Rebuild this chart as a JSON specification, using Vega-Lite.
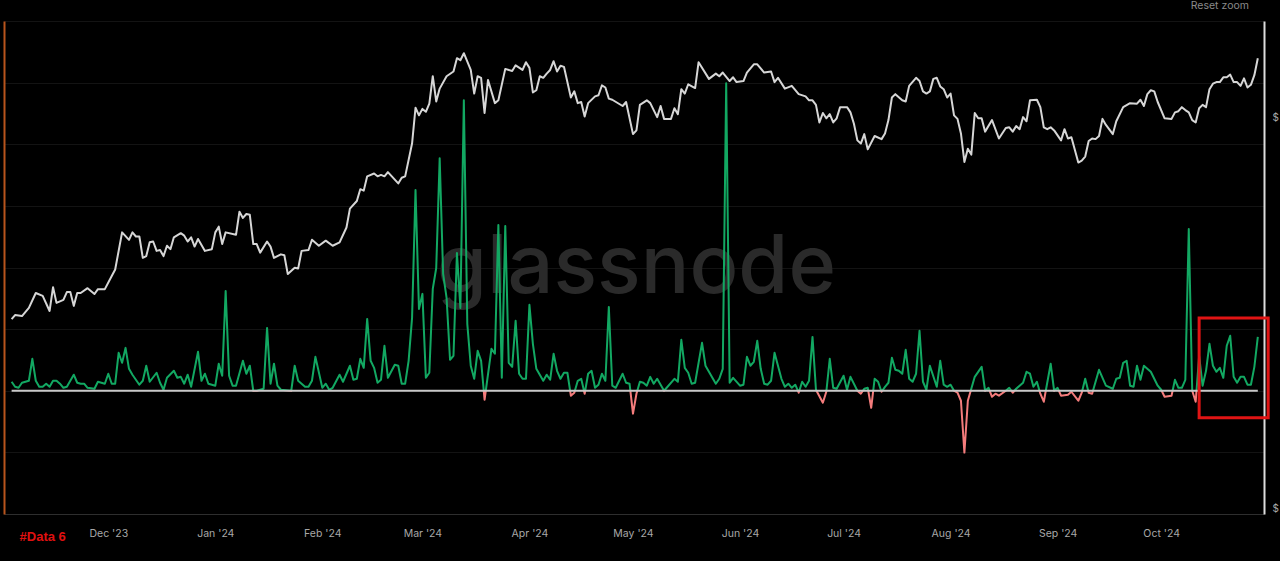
{
  "$schema": "https://vega.github.io/schema/vega-lite/v6.json",
  "description": "Bitcoin price with net flow line, dark theme with glassnode watermark.",
  "width": 1260,
  "height": 493,
  "autosize": "none",
  "padding": {"left": 4, "top": 21, "right": 16, "bottom": 47},
  "background": "#000000",
  "datasets": {
    "price": [
      {"date":"2023-11-03","price":34000},{"date":"2023-11-04","price":34400},{"date":"2023-11-06","price":34300},{"date":"2023-11-08","price":35100},{"date":"2023-11-10","price":36600},{"date":"2023-11-12","price":36300},{"date":"2023-11-14","price":34800},{"date":"2023-11-15","price":37200},{"date":"2023-11-16","price":35600},{"date":"2023-11-18","price":35900},{"date":"2023-11-19","price":36700},{"date":"2023-11-20","price":36700},{"date":"2023-11-21","price":35300},{"date":"2023-11-22","price":36600},{"date":"2023-11-23","price":36600},{"date":"2023-11-25","price":37100},{"date":"2023-11-27","price":36500},{"date":"2023-11-28","price":37000},{"date":"2023-11-30","price":37000},
      {"date":"2023-12-02","price":38400},{"date":"2023-12-03","price":39100},{"date":"2023-12-05","price":43400},{"date":"2023-12-07","price":42500},{"date":"2023-12-08","price":43400},{"date":"2023-12-09","price":42900},{"date":"2023-12-10","price":42900},{"date":"2023-12-11","price":40400},{"date":"2023-12-12","price":40600},{"date":"2023-12-13","price":42200},{"date":"2023-12-14","price":42300},{"date":"2023-12-15","price":41200},{"date":"2023-12-16","price":41300},{"date":"2023-12-17","price":40600},{"date":"2023-12-18","price":41800},{"date":"2023-12-19","price":41400},{"date":"2023-12-20","price":42800},{"date":"2023-12-22","price":43300},{"date":"2023-12-23","price":43000},{"date":"2023-12-24","price":42300},{"date":"2023-12-25","price":42800},{"date":"2023-12-26","price":41700},{"date":"2023-12-27","price":42600},{"date":"2023-12-29","price":41200},{"date":"2023-12-31","price":41400},
      {"date":"2024-01-01","price":43400},{"date":"2024-01-02","price":44100},{"date":"2024-01-03","price":42000},{"date":"2024-01-04","price":43400},{"date":"2024-01-07","price":43100},{"date":"2024-01-08","price":46000},{"date":"2024-01-09","price":45200},{"date":"2024-01-10","price":45700},{"date":"2024-01-11","price":45600},{"date":"2024-01-12","price":42000},{"date":"2024-01-13","price":42000},{"date":"2024-01-14","price":41000},{"date":"2024-01-16","price":42300},{"date":"2024-01-17","price":41700},{"date":"2024-01-18","price":40400},{"date":"2024-01-20","price":40800},{"date":"2024-01-21","price":40700},{"date":"2024-01-22","price":38600},{"date":"2024-01-24","price":39300},{"date":"2024-01-25","price":39200},{"date":"2024-01-26","price":41200},{"date":"2024-01-28","price":41300},{"date":"2024-01-29","price":42500},{"date":"2024-01-31","price":41800},
      {"date":"2024-02-02","price":42400},{"date":"2024-02-04","price":41800},{"date":"2024-02-06","price":42200},{"date":"2024-02-08","price":44000},{"date":"2024-02-09","price":46400},{"date":"2024-02-11","price":47400},{"date":"2024-02-12","price":49000},{"date":"2024-02-13","price":48800},{"date":"2024-02-14","price":50800},{"date":"2024-02-16","price":51200},{"date":"2024-02-17","price":50800},{"date":"2024-02-18","price":51000},{"date":"2024-02-19","price":50800},{"date":"2024-02-20","price":51400},{"date":"2024-02-23","price":49800},{"date":"2024-02-24","price":50600},{"date":"2024-02-25","price":50800},{"date":"2024-02-27","price":55700},{"date":"2024-02-28","price":61600},{"date":"2024-02-29","price":60300},
      {"date":"2024-03-01","price":61400},{"date":"2024-03-02","price":60900},{"date":"2024-03-03","price":62300},{"date":"2024-03-04","price":67300},{"date":"2024-03-05","price":62700},{"date":"2024-03-06","price":65000},{"date":"2024-03-08","price":67300},{"date":"2024-03-10","price":68200},{"date":"2024-03-11","price":70800},{"date":"2024-03-12","price":70400},{"date":"2024-03-13","price":71800},{"date":"2024-03-15","price":68500},{"date":"2024-03-16","price":64100},{"date":"2024-03-17","price":67300},{"date":"2024-03-18","price":67000},{"date":"2024-03-19","price":60700},{"date":"2024-03-20","price":66600},{"date":"2024-03-22","price":62400},{"date":"2024-03-23","price":62900},{"date":"2024-03-25","price":68700},{"date":"2024-03-27","price":68300},{"date":"2024-03-28","price":69400},{"date":"2024-03-30","price":68500},{"date":"2024-03-31","price":70000},
      {"date":"2024-04-01","price":68900},{"date":"2024-04-02","price":64300},{"date":"2024-04-03","price":64700},{"date":"2024-04-04","price":67300},{"date":"2024-04-05","price":67000},{"date":"2024-04-06","price":67800},{"date":"2024-04-07","price":68500},{"date":"2024-04-08","price":70200},{"date":"2024-04-09","price":68200},{"date":"2024-04-10","price":69300},{"date":"2024-04-11","price":69100},{"date":"2024-04-13","price":63400},{"date":"2024-04-14","price":64500},{"date":"2024-04-15","price":62400},{"date":"2024-04-16","price":62600},{"date":"2024-04-17","price":60100},{"date":"2024-04-18","price":62400},{"date":"2024-04-20","price":63600},{"date":"2024-04-21","price":63800},{"date":"2024-04-22","price":65600},{"date":"2024-04-23","price":65200},{"date":"2024-04-24","price":63200},{"date":"2024-04-25","price":63000},{"date":"2024-04-28","price":61900},{"date":"2024-04-29","price":62600},
      {"date":"2024-05-01","price":57200},{"date":"2024-05-02","price":57800},{"date":"2024-05-03","price":62100},{"date":"2024-05-05","price":62900},{"date":"2024-05-06","price":62400},{"date":"2024-05-08","price":60000},{"date":"2024-05-09","price":61900},{"date":"2024-05-10","price":59700},{"date":"2024-05-12","price":59700},{"date":"2024-05-13","price":61500},{"date":"2024-05-14","price":60500},{"date":"2024-05-15","price":64900},{"date":"2024-05-16","price":64100},{"date":"2024-05-17","price":65800},{"date":"2024-05-19","price":65100},{"date":"2024-05-20","price":70000},{"date":"2024-05-23","price":66800},{"date":"2024-05-25","price":67800},{"date":"2024-05-26","price":67300},{"date":"2024-05-27","price":68000},{"date":"2024-05-29","price":66400},{"date":"2024-05-30","price":67100},{"date":"2024-05-31","price":66200},
      {"date":"2024-06-02","price":66400},{"date":"2024-06-03","price":68000},{"date":"2024-06-05","price":69600},{"date":"2024-06-06","price":69600},{"date":"2024-06-08","price":68000},{"date":"2024-06-10","price":68200},{"date":"2024-06-11","price":66200},{"date":"2024-06-12","price":67000},{"date":"2024-06-14","price":65000},{"date":"2024-06-16","price":65500},{"date":"2024-06-18","price":64000},{"date":"2024-06-20","price":63600},{"date":"2024-06-21","price":62900},{"date":"2024-06-22","price":62900},{"date":"2024-06-23","price":62100},{"date":"2024-06-24","price":59100},{"date":"2024-06-25","price":60700},{"date":"2024-06-26","price":59800},{"date":"2024-06-27","price":60500},{"date":"2024-06-28","price":59100},{"date":"2024-06-29","price":59800},{"date":"2024-06-30","price":61700},
      {"date":"2024-07-02","price":61700},{"date":"2024-07-03","price":60800},{"date":"2024-07-04","price":58900},{"date":"2024-07-05","price":56200},{"date":"2024-07-06","price":55700},{"date":"2024-07-07","price":57200},{"date":"2024-07-08","price":54800},{"date":"2024-07-10","price":56900},{"date":"2024-07-12","price":56400},{"date":"2024-07-13","price":57300},{"date":"2024-07-14","price":59500},{"date":"2024-07-15","price":63400},{"date":"2024-07-16","price":64000},{"date":"2024-07-18","price":62900},{"date":"2024-07-19","price":62700},{"date":"2024-07-20","price":65500},{"date":"2024-07-22","price":67000},{"date":"2024-07-23","price":66400},{"date":"2024-07-24","price":64500},{"date":"2024-07-25","price":64100},{"date":"2024-07-26","price":64500},{"date":"2024-07-27","price":66800},{"date":"2024-07-28","price":67000},{"date":"2024-07-29","price":65400},{"date":"2024-07-30","price":64900},{"date":"2024-07-31","price":63400},
      {"date":"2024-08-01","price":64100},{"date":"2024-08-02","price":60300},{"date":"2024-08-03","price":59700},{"date":"2024-08-04","price":57300},{"date":"2024-08-05","price":52900},{"date":"2024-08-06","price":54900},{"date":"2024-08-07","price":54000},{"date":"2024-08-08","price":60700},{"date":"2024-08-09","price":59800},{"date":"2024-08-10","price":59800},{"date":"2024-08-11","price":57600},{"date":"2024-08-13","price":59500},{"date":"2024-08-15","price":56500},{"date":"2024-08-17","price":58200},{"date":"2024-08-18","price":58300},{"date":"2024-08-19","price":57600},{"date":"2024-08-20","price":58500},{"date":"2024-08-21","price":58000},{"date":"2024-08-22","price":60000},{"date":"2024-08-23","price":59300},{"date":"2024-08-24","price":62900},{"date":"2024-08-26","price":63000},{"date":"2024-08-27","price":61700},{"date":"2024-08-28","price":58300},{"date":"2024-08-29","price":58000},{"date":"2024-08-30","price":58300},{"date":"2024-08-31","price":57800},
      {"date":"2024-09-02","price":56200},{"date":"2024-09-03","price":58000},{"date":"2024-09-04","price":56500},{"date":"2024-09-05","price":56700},{"date":"2024-09-07","price":52800},{"date":"2024-09-08","price":53100},{"date":"2024-09-09","price":53700},{"date":"2024-09-10","price":56100},{"date":"2024-09-11","price":56500},{"date":"2024-09-12","price":56400},{"date":"2024-09-13","price":56900},{"date":"2024-09-14","price":59700},{"date":"2024-09-15","price":58700},{"date":"2024-09-17","price":57200},{"date":"2024-09-18","price":59300},{"date":"2024-09-20","price":61700},{"date":"2024-09-22","price":62400},{"date":"2024-09-24","price":62300},{"date":"2024-09-25","price":63000},{"date":"2024-09-26","price":61900},{"date":"2024-09-27","price":64000},{"date":"2024-09-28","price":64700},{"date":"2024-09-29","price":64500},{"date":"2024-09-30","price":62600},
      {"date":"2024-10-02","price":59800},{"date":"2024-10-04","price":59700},{"date":"2024-10-05","price":60800},{"date":"2024-10-06","price":61000},{"date":"2024-10-07","price":61700},{"date":"2024-10-08","price":61200},{"date":"2024-10-09","price":60800},{"date":"2024-10-10","price":59500},{"date":"2024-10-11","price":59100},{"date":"2024-10-12","price":61500},{"date":"2024-10-13","price":62100},{"date":"2024-10-14","price":61700},{"date":"2024-10-15","price":64900},{"date":"2024-10-16","price":65900},{"date":"2024-10-17","price":66200},{"date":"2024-10-18","price":66200},{"date":"2024-10-19","price":67100},{"date":"2024-10-20","price":67100},{"date":"2024-10-21","price":67600},{"date":"2024-10-22","price":66200},{"date":"2024-10-23","price":66200},{"date":"2024-10-24","price":65500},{"date":"2024-10-25","price":66900},{"date":"2024-10-26","price":65200},{"date":"2024-10-27","price":65700},{"date":"2024-10-28","price":67500},{"date":"2024-10-29","price":70800}
    ],
    "flow": [
      {"date":"2023-11-03","flow":73},{"date":"2023-11-04","flow":32},{"date":"2023-11-05","flow":24},{"date":"2023-11-06","flow":65},{"date":"2023-11-08","flow":81},{"date":"2023-11-09","flow":259},{"date":"2023-11-10","flow":81},{"date":"2023-11-11","flow":32},{"date":"2023-11-12","flow":32},{"date":"2023-11-13","flow":57},{"date":"2023-11-14","flow":32},{"date":"2023-11-15","flow":81},{"date":"2023-11-16","flow":81},{"date":"2023-11-17","flow":57},{"date":"2023-11-18","flow":24},{"date":"2023-11-19","flow":32},{"date":"2023-11-21","flow":130},{"date":"2023-11-22","flow":65},{"date":"2023-11-23","flow":57},{"date":"2023-11-24","flow":57},{"date":"2023-11-25","flow":24},{"date":"2023-11-27","flow":16},{"date":"2023-11-28","flow":73},{"date":"2023-11-30","flow":57},
      {"date":"2023-12-01","flow":138},{"date":"2023-12-02","flow":57},{"date":"2023-12-03","flow":57},{"date":"2023-12-04","flow":308},{"date":"2023-12-05","flow":227},{"date":"2023-12-06","flow":348},{"date":"2023-12-07","flow":178},{"date":"2023-12-08","flow":130},{"date":"2023-12-10","flow":49},{"date":"2023-12-11","flow":81},{"date":"2023-12-12","flow":203},{"date":"2023-12-13","flow":73},{"date":"2023-12-15","flow":146},{"date":"2023-12-16","flow":65},{"date":"2023-12-17","flow":8},{"date":"2023-12-18","flow":105},{"date":"2023-12-20","flow":162},{"date":"2023-12-21","flow":105},{"date":"2023-12-22","flow":113},{"date":"2023-12-23","flow":57},{"date":"2023-12-24","flow":130},{"date":"2023-12-25","flow":32},{"date":"2023-12-27","flow":316},{"date":"2023-12-28","flow":81},{"date":"2023-12-29","flow":138},{"date":"2023-12-30","flow":57},
      {"date":"2024-01-01","flow":41},{"date":"2024-01-02","flow":219},{"date":"2024-01-03","flow":122},{"date":"2024-01-04","flow":810},{"date":"2024-01-05","flow":122},{"date":"2024-01-06","flow":41},{"date":"2024-01-07","flow":41},{"date":"2024-01-09","flow":243},{"date":"2024-01-10","flow":138},{"date":"2024-01-11","flow":203},{"date":"2024-01-12","flow":0},{"date":"2024-01-13","flow":0},{"date":"2024-01-15","flow":16},{"date":"2024-01-16","flow":510},{"date":"2024-01-17","flow":57},{"date":"2024-01-18","flow":219},{"date":"2024-01-19","flow":41},{"date":"2024-01-20","flow":8},{"date":"2024-01-23","flow":0},{"date":"2024-01-24","flow":203},{"date":"2024-01-25","flow":81},{"date":"2024-01-26","flow":57},{"date":"2024-01-27","flow":32},{"date":"2024-01-28","flow":32},{"date":"2024-01-29","flow":81},{"date":"2024-01-30","flow":275},
      {"date":"2024-02-01","flow":24},{"date":"2024-02-02","flow":57},{"date":"2024-02-03","flow":8},{"date":"2024-02-04","flow":24},{"date":"2024-02-06","flow":130},{"date":"2024-02-07","flow":73},{"date":"2024-02-09","flow":203},{"date":"2024-02-10","flow":89},{"date":"2024-02-11","flow":97},{"date":"2024-02-12","flow":259},{"date":"2024-02-13","flow":186},{"date":"2024-02-14","flow":583},{"date":"2024-02-15","flow":243},{"date":"2024-02-16","flow":186},{"date":"2024-02-17","flow":65},{"date":"2024-02-18","flow":89},{"date":"2024-02-19","flow":365},{"date":"2024-02-20","flow":105},{"date":"2024-02-22","flow":211},{"date":"2024-02-23","flow":203},{"date":"2024-02-24","flow":57},{"date":"2024-02-25","flow":57},{"date":"2024-02-26","flow":243},{"date":"2024-02-27","flow":591},{"date":"2024-02-28","flow":1628},{"date":"2024-02-29","flow":664},
      {"date":"2024-03-01","flow":786},{"date":"2024-03-02","flow":105},{"date":"2024-03-03","flow":146},{"date":"2024-03-04","flow":826},{"date":"2024-03-05","flow":996},{"date":"2024-03-06","flow":1887},{"date":"2024-03-07","flow":948},{"date":"2024-03-08","flow":753},{"date":"2024-03-09","flow":251},{"date":"2024-03-10","flow":284},{"date":"2024-03-11","flow":1118},{"date":"2024-03-12","flow":672},{"date":"2024-03-13","flow":2357},{"date":"2024-03-14","flow":543},{"date":"2024-03-15","flow":203},{"date":"2024-03-16","flow":97},{"date":"2024-03-17","flow":324},{"date":"2024-03-18","flow":243},{"date":"2024-03-19","flow":-73},{"date":"2024-03-21","flow":340},{"date":"2024-03-22","flow":300},{"date":"2024-03-23","flow":1345},{"date":"2024-03-24","flow":105},{"date":"2024-03-25","flow":1337},{"date":"2024-03-26","flow":227},{"date":"2024-03-27","flow":194},{"date":"2024-03-28","flow":567},{"date":"2024-03-29","flow":138},{"date":"2024-03-30","flow":97},{"date":"2024-03-31","flow":97},
      {"date":"2024-04-01","flow":697},{"date":"2024-04-02","flow":381},{"date":"2024-04-03","flow":178},{"date":"2024-04-05","flow":81},{"date":"2024-04-06","flow":130},{"date":"2024-04-07","flow":89},{"date":"2024-04-08","flow":300},{"date":"2024-04-09","flow":162},{"date":"2024-04-10","flow":97},{"date":"2024-04-11","flow":146},{"date":"2024-04-12","flow":146},{"date":"2024-04-13","flow":-40},{"date":"2024-04-14","flow":-16},{"date":"2024-04-15","flow":81},{"date":"2024-04-16","flow":97},{"date":"2024-04-17","flow":-24},{"date":"2024-04-18","flow":138},{"date":"2024-04-19","flow":162},{"date":"2024-04-20","flow":24},{"date":"2024-04-21","flow":49},{"date":"2024-04-22","flow":138},{"date":"2024-04-23","flow":81},{"date":"2024-04-24","flow":680},{"date":"2024-04-25","flow":41},{"date":"2024-04-26","flow":24},{"date":"2024-04-28","flow":138},{"date":"2024-04-29","flow":65},{"date":"2024-04-30","flow":57},
      {"date":"2024-05-01","flow":-186},{"date":"2024-05-02","flow":-24},{"date":"2024-05-03","flow":73},{"date":"2024-05-04","flow":65},{"date":"2024-05-05","flow":41},{"date":"2024-05-06","flow":113},{"date":"2024-05-07","flow":57},{"date":"2024-05-08","flow":97},{"date":"2024-05-10","flow":0},{"date":"2024-05-13","flow":97},{"date":"2024-05-14","flow":73},{"date":"2024-05-15","flow":413},{"date":"2024-05-16","flow":186},{"date":"2024-05-17","flow":146},{"date":"2024-05-18","flow":57},{"date":"2024-05-19","flow":65},{"date":"2024-05-21","flow":389},{"date":"2024-05-22","flow":203},{"date":"2024-05-25","flow":57},{"date":"2024-05-26","flow":97},{"date":"2024-05-27","flow":178},{"date":"2024-05-28","flow":2495},{"date":"2024-05-29","flow":65},{"date":"2024-05-30","flow":105},
      {"date":"2024-06-01","flow":41},{"date":"2024-06-02","flow":49},{"date":"2024-06-03","flow":275},{"date":"2024-06-04","flow":203},{"date":"2024-06-05","flow":235},{"date":"2024-06-06","flow":405},{"date":"2024-06-07","flow":178},{"date":"2024-06-08","flow":57},{"date":"2024-06-09","flow":49},{"date":"2024-06-10","flow":81},{"date":"2024-06-11","flow":308},{"date":"2024-06-13","flow":97},{"date":"2024-06-14","flow":32},{"date":"2024-06-15","flow":57},{"date":"2024-06-16","flow":24},{"date":"2024-06-17","flow":49},{"date":"2024-06-18","flow":-16},{"date":"2024-06-19","flow":73},{"date":"2024-06-20","flow":32},{"date":"2024-06-21","flow":81},{"date":"2024-06-22","flow":437},{"date":"2024-06-23","flow":8},{"date":"2024-06-25","flow":-97},{"date":"2024-06-26","flow":-8},{"date":"2024-06-27","flow":259},{"date":"2024-06-28","flow":24},{"date":"2024-06-29","flow":16},
      {"date":"2024-07-01","flow":122},{"date":"2024-07-02","flow":8},{"date":"2024-07-03","flow":113},{"date":"2024-07-05","flow":0},{"date":"2024-07-06","flow":-24},{"date":"2024-07-07","flow":16},{"date":"2024-07-08","flow":24},{"date":"2024-07-09","flow":-138},{"date":"2024-07-10","flow":97},{"date":"2024-07-11","flow":73},{"date":"2024-07-12","flow":-8},{"date":"2024-07-13","flow":32},{"date":"2024-07-14","flow":65},{"date":"2024-07-15","flow":267},{"date":"2024-07-16","flow":170},{"date":"2024-07-17","flow":162},{"date":"2024-07-18","flow":138},{"date":"2024-07-19","flow":332},{"date":"2024-07-20","flow":97},{"date":"2024-07-21","flow":73},{"date":"2024-07-22","flow":138},{"date":"2024-07-23","flow":486},{"date":"2024-07-24","flow":73},{"date":"2024-07-25","flow":8},{"date":"2024-07-26","flow":203},{"date":"2024-07-28","flow":32},{"date":"2024-07-29","flow":243},{"date":"2024-07-30","flow":49},{"date":"2024-07-31","flow":32},
      {"date":"2024-08-01","flow":49},{"date":"2024-08-02","flow":0},{"date":"2024-08-03","flow":-16},{"date":"2024-08-04","flow":-81},{"date":"2024-08-05","flow":-502},{"date":"2024-08-06","flow":-81},{"date":"2024-08-08","flow":113},{"date":"2024-08-10","flow":194},{"date":"2024-08-11","flow":0},{"date":"2024-08-12","flow":24},{"date":"2024-08-13","flow":-49},{"date":"2024-08-14","flow":-24},{"date":"2024-08-15","flow":-40},{"date":"2024-08-17","flow":0},{"date":"2024-08-18","flow":24},{"date":"2024-08-19","flow":-16},{"date":"2024-08-20","flow":16},{"date":"2024-08-22","flow":65},{"date":"2024-08-23","flow":154},{"date":"2024-08-24","flow":138},{"date":"2024-08-25","flow":32},{"date":"2024-08-26","flow":73},{"date":"2024-08-27","flow":-24},{"date":"2024-08-28","flow":-89},{"date":"2024-08-30","flow":219},{"date":"2024-08-31","flow":0},
      {"date":"2024-09-01","flow":24},{"date":"2024-09-02","flow":-40},{"date":"2024-09-04","flow":-32},{"date":"2024-09-05","flow":-8},{"date":"2024-09-07","flow":-81},{"date":"2024-09-08","flow":-16},{"date":"2024-09-09","flow":97},{"date":"2024-09-10","flow":-16},{"date":"2024-09-11","flow":-24},{"date":"2024-09-13","flow":170},{"date":"2024-09-15","flow":41},{"date":"2024-09-17","flow":16},{"date":"2024-09-18","flow":97},{"date":"2024-09-19","flow":105},{"date":"2024-09-20","flow":227},{"date":"2024-09-21","flow":243},{"date":"2024-09-22","flow":41},{"date":"2024-09-23","flow":32},{"date":"2024-09-24","flow":203},{"date":"2024-09-25","flow":89},{"date":"2024-09-26","flow":203},{"date":"2024-09-28","flow":154},{"date":"2024-09-30","flow":41},
      {"date":"2024-10-01","flow":8},{"date":"2024-10-02","flow":-49},{"date":"2024-10-04","flow":-40},{"date":"2024-10-05","flow":89},{"date":"2024-10-06","flow":24},{"date":"2024-10-07","flow":24},{"date":"2024-10-08","flow":89},{"date":"2024-10-09","flow":1312},{"date":"2024-10-10","flow":0},{"date":"2024-10-11","flow":-89},{"date":"2024-10-12","flow":283},{"date":"2024-10-13","flow":41},{"date":"2024-10-14","flow":162},{"date":"2024-10-15","flow":381},{"date":"2024-10-16","flow":203},{"date":"2024-10-17","flow":154},{"date":"2024-10-18","flow":186},{"date":"2024-10-19","flow":105},{"date":"2024-10-20","flow":365},{"date":"2024-10-21","flow":446},{"date":"2024-10-22","flow":113},{"date":"2024-10-23","flow":65},{"date":"2024-10-24","flow":113},{"date":"2024-10-25","flow":113},{"date":"2024-10-26","flow":49},{"date":"2024-10-27","flow":49},{"date":"2024-10-28","flow":194},{"date":"2024-10-29","flow":437}
    ]
  },
  "layer": [
    {
      "layer": [
        {
          "data": {"values": [{"date": "2024-05-02", "flow": 794, "label": "glassnode"}]},
          "mark": {"type": "text", "font": "Inter", "fontSize": 81, "fontWeight": 500, "color": "#2a2a2a", "align": "center", "baseline": "alphabetic"},
          "encoding": {
            "x": {
              "field": "date",
              "type": "temporal",
              "scale": {"type": "utc", "domain": ["2023-10-31T19:00:00Z", "2024-10-30T19:00:00Z"]},
              "title": null,
              "axis": {
                "values": [
                  {"year": 2023, "month": 12, "date": 1, "utc": true},
                  {"year": 2024, "month": 1, "date": 1, "utc": true},
                  {"year": 2024, "month": 2, "date": 1, "utc": true},
                  {"year": 2024, "month": 3, "date": 1, "utc": true},
                  {"year": 2024, "month": 4, "date": 1, "utc": true},
                  {"year": 2024, "month": 5, "date": 1, "utc": true},
                  {"year": 2024, "month": 6, "date": 1, "utc": true},
                  {"year": 2024, "month": 7, "date": 1, "utc": true},
                  {"year": 2024, "month": 8, "date": 1, "utc": true},
                  {"year": 2024, "month": 9, "date": 1, "utc": true},
                  {"year": 2024, "month": 10, "date": 1, "utc": true}
                ],
                "format": "%b '%y",
                "grid": false,
                "ticks": false,
                "domainColor": "#2e2e2e",
                "labelColor": "#a8a8a8",
                "labelFont": "Inter",
                "labelFontSize": 10.5,
                "labelPadding": 14,
                "labelBound": false,
                "labelFlush": false
              }
            },
            "y": {
              "field": "flow",
              "type": "quantitative",
              "scale": {"domain": [-1000, 3000]},
              "title": null,
              "axis": {
                "values": [-1000, -500, 0, 500, 1000, 1500, 2000, 2500, 3000],
                "labels": false,
                "ticks": false,
                "domainColor": "#b8541c",
                "domainWidth": 2,
                "gridColor": "#131313",
                "grid": true
              }
            },
            "text": {"field": "label"}
          }
        },
        {
          "data": {"name": "flow"},
          "mark": {
            "type": "line",
            "strokeWidth": 2,
            "strokeJoin": "round",
            "color": {
              "gradient": "linear",
              "x1": 0, "y1": 0, "x2": 0, "y2": 1,
              "stops": [
                {"offset": 0, "color": "#12a862"},
                {"offset": 0.8325, "color": "#12a862"},
                {"offset": 0.8325, "color": "#f47c7c"},
                {"offset": 1, "color": "#f47c7c"}
              ]
            }
          },
          "encoding": {
            "x": {"field": "date", "type": "temporal"},
            "y": {"field": "flow", "type": "quantitative"}
          }
        },
        {
          "data": {"values": [{"start": "2023-11-03", "end": "2024-10-29", "flow": 0}]},
          "mark": {"type": "rule", "color": "#c8c8c8", "strokeWidth": 2},
          "encoding": {
            "x": {"field": "start", "type": "temporal"},
            "x2": {"field": "end"},
            "y": {"field": "flow", "type": "quantitative"}
          }
        },
        {
          "data": {"values": [{"start": "2024-10-12", "end": "2024-11-01", "high": 590, "low": -220}]},
          "mark": {"type": "rect", "fill": null, "stroke": "#e01414", "strokeWidth": 3},
          "encoding": {
            "x": {"field": "start", "type": "temporal"},
            "x2": {"field": "end"},
            "y": {"field": "high", "type": "quantitative"},
            "y2": {"field": "low"}
          }
        },
        {
          "data": {"values": [{"date": "2023-11-12", "flow": -1183, "label": "#Data 6"}]},
          "mark": {"type": "text", "font": "Liberation Sans", "fontSize": 13, "fontWeight": "bold", "color": "#e01010", "align": "center", "baseline": "middle"},
          "encoding": {
            "x": {"field": "date", "type": "temporal"},
            "y": {"field": "flow", "type": "quantitative"},
            "text": {"field": "label"}
          }
        },
        {
          "data": {"values": [{"date": "2024-10-18", "flow": 3122, "label": "Reset zoom"}]},
          "mark": {"type": "text", "font": "Inter", "fontSize": 10.5, "color": "#8a8a8a", "align": "center", "baseline": "middle"},
          "encoding": {
            "x": {"field": "date", "type": "temporal"},
            "y": {"field": "flow", "type": "quantitative"},
            "text": {"field": "label"}
          }
        }
      ]
    },
    {
      "data": {"name": "price"},
      "mark": {"type": "line", "color": "#d6d6d6", "strokeWidth": 2, "strokeJoin": "round"},
      "encoding": {
        "x": {"field": "date", "type": "temporal"},
        "y": {
          "field": "price",
          "type": "quantitative",
          "scale": {"type": "log", "domain": [19670, 78600]},
          "title": null,
          "axis": {
            "orient": "right",
            "values": [20000, 60000],
            "labelExpr": "'$'",
            "grid": false,
            "ticks": false,
            "domainColor": "#dcdcdc",
            "domainWidth": 2,
            "labelColor": "#a8a8a8",
            "labelFont": "Inter",
            "labelFontSize": 10,
            "labelPadding": 8
          }
        }
      }
    }
  ],
  "resolve": {"scale": {"y": "independent"}},
  "config": {"view": {"stroke": null}}
}
